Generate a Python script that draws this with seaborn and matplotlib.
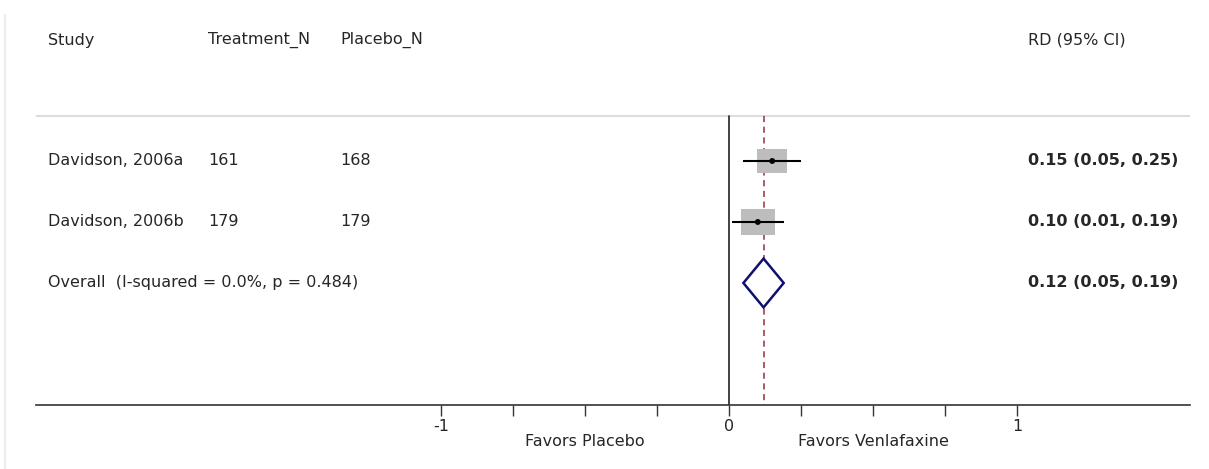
import matplotlib
matplotlib.use("Agg")
import matplotlib.pyplot as plt
import matplotlib.transforms as mtransforms
from matplotlib.lines import Line2D
from matplotlib.patches import Rectangle, Polygon
import numpy as np
import pandas as pd
import seaborn as sns

# data
studies = ["Davidson, 2006a", "Davidson, 2006b"]
treatment_n = [161, 179]
placebo_n = [168, 179]
rd = [0.15, 0.10]
ci_low = [0.05, 0.01]
ci_high = [0.25, 0.19]
weights = [44.0, 56.0]

overall_label = "Overall  (I-squared = 0.0%, p = 0.484)"
overall_rd = 0.12
overall_low = 0.05
overall_high = 0.19

major_ticks = [-1, 0, 1]
minor_ticks = [-0.75, -0.5, -0.25, 0.25, 0.5, 0.75]
favor_labels = ["Favors Placebo", "Favors Venlafaxine"]
favor_pos = [-0.5, 0.5]

sns.set_style("white")
plt.rcParams["font.family"] = ["DejaVu Sans"]
FS = 11.5

W, H = 1209, 469
fig = plt.figure(figsize=(W / 100, H / 100), dpi=100)
ax = fig.add_axes([36 / W, 64 / H, (1190 - 36) / W, (405 - 10) / H])
ax.set_xlim((36 - 729) / 288, (1190 - 729) / 288)
ax.set_ylim(4.0, -2.475)

df = pd.DataFrame({"study": studies, "rd": rd, "lo": ci_low, "hi": ci_high,
                   "w": weights, "row": np.arange(len(studies))})
overall_row = len(studies)
top_line = -0.74

# heading rule and reference lines
ax.plot(ax.get_xlim(), [top_line, top_line], color="#dcdcdc", lw=1.5, zorder=1)
ax.plot([0, 0], [top_line, 4.0], color="#333333", lw=1.3, zorder=2)
ax.plot([overall_rd, overall_rd], [top_line, 4.0], color="#8f3040", lw=1.1,
        ls=(0, (4, 3)), zorder=2)

# weight boxes
for _, r in df.iterrows():
    bw = 0.0158 * np.sqrt(r["w"])
    bh = 0.057 * np.sqrt(r["w"])
    ax.add_patch(Rectangle((r["rd"] - bw / 2, r["row"] - bh / 2), bw, bh,
                           facecolor="#bdbdbd", edgecolor="none", zorder=3))

ax.hlines(df["row"], df["lo"], df["hi"], color="black", lw=1.5, zorder=4)
sns.scatterplot(data=df, x="rd", y="row", color="black", s=18,
                edgecolor="none", zorder=5, ax=ax, legend=False)

# overall diamond
dh = 0.40
ax.add_patch(Polygon([(overall_low, overall_row), (overall_rd, overall_row - dh),
                      (overall_high, overall_row), (overall_rd, overall_row + dh)],
                     closed=True, facecolor="white", edgecolor="#101070",
                     lw=1.8, zorder=4))

# axis styling
for s in ["top", "right", "left"]:
    ax.spines[s].set_visible(False)
ax.spines["bottom"].set_color("#333333")
ax.spines["bottom"].set_linewidth(1.2)
ax.set_yticks([])
ax.set_xticks(major_ticks)
ax.set_xticklabels([str(t) for t in major_ticks], fontsize=FS)
ax.set_xticks(minor_ticks, minor=True)
ax.tick_params(axis="x", which="both", direction="out", length=8,
               width=1, color="#333333", pad=2, bottom=True)
ax.set_xlabel("")
ax.set_ylabel("")

# text columns
tr = mtransforms.blended_transform_factory(fig.transFigure, ax.transData)
col_study, col_treat, col_plac, col_rd = 48 / W, 208 / W, 340 / W, 1028 / W
header_y = -1.98
ax.text(col_study, header_y, "Study", transform=tr, fontsize=FS, va="center")
ax.text(col_treat, header_y, "Treatment_N", transform=tr, fontsize=FS, va="center")
ax.text(col_plac, header_y, "Placebo_N", transform=tr, fontsize=FS, va="center")
ax.text(col_rd, header_y, "RD (95% CI)", transform=tr, fontsize=FS, va="center")

for _, r in df.iterrows():
    i = int(r["row"])
    ax.text(col_study, i, r["study"], transform=tr, fontsize=FS, va="center")
    ax.text(col_treat, i, str(treatment_n[i]), transform=tr, fontsize=FS, va="center")
    ax.text(col_plac, i, str(placebo_n[i]), transform=tr, fontsize=FS, va="center")
    ax.text(col_rd, i, f"{r['rd']:.2f} ({r['lo']:.2f}, {r['hi']:.2f})",
            transform=tr, fontsize=FS, va="center", fontweight="bold")

ax.text(col_study, overall_row, overall_label, transform=tr, fontsize=FS, va="center")
ax.text(col_rd, overall_row,
        f"{overall_rd:.2f} ({overall_low:.2f}, {overall_high:.2f})",
        transform=tr, fontsize=FS, va="center", fontweight="bold")

tr2 = mtransforms.blended_transform_factory(ax.transData, fig.transFigure)
for lab, xp in zip(favor_labels, favor_pos):
    ax.text(xp, 1 - 441 / H, lab, transform=tr2, fontsize=FS, ha="center", va="center")

# faint outer frame on the left
fig.add_artist(Line2D([5 / W, 5 / W], [0, 1 - 15 / H], color="#ececec", lw=1.5))

fig.savefig("out.png", dpi=100, facecolor="white")
